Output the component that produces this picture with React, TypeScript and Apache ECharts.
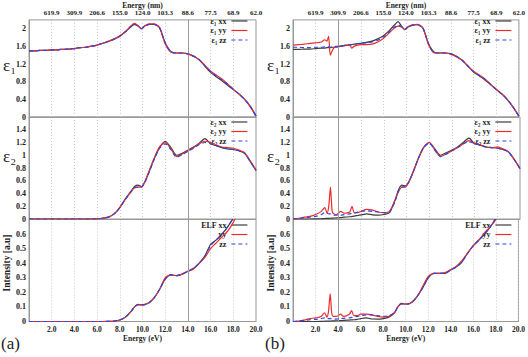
import React, { useEffect, useRef } from "react";
import * as echarts from "echarts";

// Photon energy grid (eV) shared by all curves
const energy = [
  0, 0.5, 1, 1.5, 2, 2.5, 2.8, 3.0, 3.15, 3.3,
  3.45, 3.6, 3.8, 4, 4.2, 4.5, 5, 5.2, 5.4, 5.7,
  6, 6.5, 7, 7.5, 8, 8.5, 9, 9.3, 9.6, 9.9,
  10.2, 10.6, 11, 11.5, 12, 12.5, 13, 13.5, 14, 14.5,
  15, 15.5, 16, 16.5, 17, 17.5, 18, 18.5, 19, 19.5,
  20,
];

// top axis tick labels (wavelength, nm) at 2,4,...,20 eV
const topTickLabels = ["619.9", "309.9", "206.6", "155.0", "124.0", "103.3", "88.6", "77.5", "68.9", "62.0"];

// ---------- panel (a) ----------
const aEps1xx = [
  1.50, 1.50, 1.51, 1.51, 1.52, 1.52, 1.53, 1.53, 1.53, 1.54,
  1.54, 1.54, 1.55, 1.55, 1.56, 1.57, 1.58, 1.59, 1.60, 1.61,
  1.63, 1.67, 1.71, 1.76, 1.83, 1.93, 2.05, 2.10, 2.07, 2.00,
  2.06, 2.10, 2.10, 2.02, 1.68, 1.48, 1.45, 1.45, 1.43, 1.38,
  1.29, 1.15, 1.01, 0.91, 0.82, 0.72, 0.62, 0.52, 0.40, 0.24,
  0.02,
];
const aEps1yy = [
  1.50, 1.50, 1.51, 1.51, 1.52, 1.52, 1.53, 1.53, 1.53, 1.54,
  1.54, 1.54, 1.55, 1.55, 1.56, 1.57, 1.58, 1.59, 1.60, 1.61,
  1.63, 1.67, 1.72, 1.77, 1.84, 1.94, 2.07, 2.12, 2.07, 2.00,
  2.07, 2.11, 2.11, 2.03, 1.66, 1.47, 1.45, 1.45, 1.43, 1.37,
  1.30, 1.17, 1.04, 0.95, 0.86, 0.75, 0.63, 0.52, 0.40, 0.23,
  0.02,
];
const aEps1zz = [
  1.50, 1.50, 1.51, 1.51, 1.52, 1.52, 1.53, 1.53, 1.53, 1.54,
  1.54, 1.54, 1.55, 1.55, 1.56, 1.57, 1.58, 1.59, 1.60, 1.61,
  1.63, 1.67, 1.71, 1.76, 1.83, 1.93, 2.05, 2.09, 2.06, 2.00,
  2.06, 2.10, 2.10, 2.02, 1.67, 1.48, 1.45, 1.45, 1.43, 1.38,
  1.30, 1.16, 1.03, 0.93, 0.84, 0.74, 0.63, 0.52, 0.40, 0.24,
  0.02,
];
const aEps2xx = [
  0, 0, 0, 0, 0, 0, 0, 0, 0, 0,
  0, 0, 0, 0, 0, 0, 0, 0, 0, 0.001,
  0.003, 0.012, 0.03, 0.08, 0.18, 0.32, 0.44, 0.51, 0.53, 0.51,
  0.58, 0.75, 0.93, 1.12, 1.22, 1.12, 1.00, 1.03, 1.08, 1.13,
  1.19, 1.26, 1.18, 1.15, 1.12, 1.10, 1.09, 1.07, 1.03, 0.90,
  0.76,
];
const aEps2yy = [
  0, 0, 0, 0, 0, 0, 0, 0, 0, 0,
  0, 0, 0, 0, 0, 0, 0, 0, 0, 0.001,
  0.003, 0.012, 0.03, 0.08, 0.18, 0.31, 0.43, 0.49, 0.50, 0.50,
  0.58, 0.76, 0.94, 1.13, 1.20, 1.10, 0.98, 1.02, 1.07, 1.12,
  1.18, 1.22, 1.20, 1.16, 1.13, 1.12, 1.11, 1.08, 1.04, 0.91,
  0.77,
];
const aEps2zz = [
  0, 0, 0, 0, 0, 0, 0, 0, 0, 0,
  0, 0, 0, 0, 0, 0, 0, 0, 0, 0.001,
  0.003, 0.012, 0.03, 0.08, 0.18, 0.31, 0.43, 0.49, 0.50, 0.50,
  0.57, 0.74, 0.92, 1.11, 1.18, 1.09, 0.97, 1.01, 1.06, 1.11,
  1.17, 1.20, 1.18, 1.15, 1.12, 1.10, 1.09, 1.07, 1.03, 0.90,
  0.76,
];
const aElfxx = [
  0, 0, 0, 0, 0, 0, 0, 0, 0, 0,
  0, 0, 0, 0, 0, 0, 0, 0, 0, 0,
  0, 0, 0.001, 0.003, 0.01, 0.03, 0.07, 0.10, 0.117, 0.115,
  0.117, 0.13, 0.16, 0.22, 0.29, 0.32, 0.315, 0.325, 0.345, 0.365,
  0.40, 0.45, 0.53, 0.56, 0.60, 0.65, 0.71, 0.79, 0.87, 0.95,
  1.03,
];
const aElfyy = [
  0, 0, 0, 0, 0, 0, 0, 0, 0, 0,
  0, 0, 0, 0, 0, 0, 0, 0, 0, 0,
  0, 0, 0.001, 0.003, 0.01, 0.03, 0.07, 0.10, 0.115, 0.112,
  0.115, 0.13, 0.16, 0.22, 0.30, 0.32, 0.315, 0.325, 0.345, 0.36,
  0.40, 0.44, 0.50, 0.54, 0.58, 0.62, 0.68, 0.76, 0.84, 0.92,
  1.00,
];
const aElfzz = [
  0, 0, 0, 0, 0, 0, 0, 0, 0, 0,
  0, 0, 0, 0, 0, 0, 0, 0, 0, 0,
  0, 0, 0.001, 0.003, 0.01, 0.03, 0.07, 0.10, 0.116, 0.114,
  0.116, 0.13, 0.16, 0.22, 0.29, 0.32, 0.315, 0.325, 0.345, 0.365,
  0.40, 0.45, 0.52, 0.56, 0.60, 0.65, 0.71, 0.79, 0.87, 0.95,
  1.03,
];

// ---------- panel (b) ----------
const bEps1xx = [
  1.53, 1.53, 1.54, 1.54, 1.55, 1.56, 1.56, 1.57, 1.57, 1.57,
  1.58, 1.58, 1.58, 1.59, 1.60, 1.61, 1.63, 1.64, 1.65, 1.66,
  1.67, 1.69, 1.72, 1.77, 1.84, 1.95, 2.09, 2.16, 2.06, 1.98,
  2.04, 2.08, 2.09, 2.01, 1.66, 1.47, 1.45, 1.45, 1.43, 1.37,
  1.28, 1.15, 1.02, 0.93, 0.84, 0.73, 0.62, 0.52, 0.39, 0.22,
  0.02,
];
const bEps1yy = [
  1.63, 1.64, 1.65, 1.67, 1.68, 1.70, 1.75, 1.72, 1.83, 1.40,
  1.49, 1.56, 1.59, 1.60, 1.61, 1.62, 1.64, 1.56, 1.60, 1.63,
  1.64, 1.64, 1.65, 1.70, 1.78, 1.90, 2.02, 2.06, 2.04, 1.98,
  2.05, 2.09, 2.10, 2.02, 1.64, 1.45, 1.45, 1.45, 1.42, 1.36,
  1.28, 1.15, 1.03, 0.95, 0.86, 0.74, 0.63, 0.52, 0.39, 0.22,
  0.02,
];
const bEps1zz = [
  1.58, 1.58, 1.57, 1.57, 1.58, 1.58, 1.59, 1.58, 1.59, 1.58,
  1.59, 1.59, 1.60, 1.60, 1.61, 1.62, 1.64, 1.64, 1.65, 1.66,
  1.67, 1.68, 1.70, 1.74, 1.81, 1.92, 2.04, 2.08, 2.05, 1.98,
  2.04, 2.08, 2.09, 2.02, 1.66, 1.46, 1.45, 1.45, 1.43, 1.37,
  1.28, 1.15, 1.02, 0.94, 0.85, 0.74, 0.62, 0.52, 0.39, 0.22,
  0.02,
];
const bEps2xx = [
  0, 0, 0, 0, 0.002, 0.005, 0.008, 0.01, 0.01, 0.012,
  0.013, 0.015, 0.017, 0.02, 0.022, 0.028, 0.035, 0.04, 0.045, 0.055,
  0.065, 0.08, 0.065, 0.06, 0.07, 0.10, 0.30, 0.46, 0.53, 0.52,
  0.58, 0.74, 0.93, 1.12, 1.20, 1.10, 1.00, 1.04, 1.08, 1.13,
  1.20, 1.27, 1.18, 1.16, 1.13, 1.12, 1.11, 1.09, 1.05, 0.93,
  0.79,
];
const bEps2yy = [
  0, 0.01, 0.03, 0.04, 0.07, 0.12, 0.18, 0.09, 0.20, 0.50,
  0.12, 0.08, 0.07, 0.09, 0.12, 0.09, 0.11, 0.20, 0.10, 0.10,
  0.12, 0.15, 0.14, 0.11, 0.10, 0.12, 0.30, 0.43, 0.50, 0.50,
  0.58, 0.75, 0.93, 1.12, 1.20, 1.08, 0.98, 1.02, 1.07, 1.12,
  1.18, 1.23, 1.19, 1.16, 1.13, 1.12, 1.13, 1.10, 1.05, 0.93,
  0.79,
];
const bEps2zz = [
  0, 0.01, 0.02, 0.03, 0.04, 0.07, 0.10, 0.09, 0.08, 0.08,
  0.07, 0.06, 0.06, 0.06, 0.06, 0.07, 0.08, 0.09, 0.09, 0.11,
  0.12, 0.13, 0.12, 0.11, 0.10, 0.11, 0.28, 0.44, 0.50, 0.51,
  0.58, 0.74, 0.93, 1.12, 1.19, 1.08, 0.98, 1.02, 1.07, 1.12,
  1.18, 1.21, 1.19, 1.16, 1.13, 1.12, 1.11, 1.09, 1.05, 0.93,
  0.79,
];
const bElfxx = [
  0, 0, 0, 0, 0, 0.001, 0.002, 0.003, 0.003, 0.003,
  0.004, 0.004, 0.005, 0.005, 0.006, 0.008, 0.010, 0.011, 0.012, 0.015,
  0.020, 0.025, 0.017, 0.016, 0.020, 0.030, 0.06, 0.10, 0.125, 0.12,
  0.12, 0.135, 0.17, 0.23, 0.30, 0.33, 0.33, 0.33, 0.355, 0.375,
  0.41, 0.47, 0.52, 0.56, 0.60, 0.65, 0.71, 0.79, 0.87, 0.95,
  1.03,
];
const bElfyy = [
  0, 0.003, 0.01, 0.02, 0.025, 0.035, 0.06, 0.03, 0.07, 0.19,
  0.05, 0.035, 0.035, 0.04, 0.05, 0.035, 0.05, 0.075, 0.04, 0.04,
  0.05, 0.05, 0.045, 0.035, 0.03, 0.035, 0.06, 0.10, 0.12, 0.12,
  0.12, 0.135, 0.17, 0.24, 0.31, 0.33, 0.33, 0.335, 0.355, 0.38,
  0.42, 0.47, 0.52, 0.56, 0.61, 0.65, 0.70, 0.78, 0.86, 0.94,
  1.02,
];
const bElfzz = [
  0, 0.003, 0.008, 0.012, 0.015, 0.02, 0.025, 0.02, 0.02, 0.02,
  0.018, 0.016, 0.016, 0.018, 0.02, 0.022, 0.025, 0.028, 0.03, 0.035,
  0.04, 0.045, 0.045, 0.04, 0.035, 0.04, 0.06, 0.10, 0.12, 0.12,
  0.12, 0.135, 0.17, 0.23, 0.30, 0.33, 0.33, 0.33, 0.355, 0.375,
  0.41, 0.47, 0.52, 0.56, 0.60, 0.65, 0.71, 0.79, 0.87, 0.95,
  1.03,
];

const names1 = ["ε₁ xx", "ε₁ yy", "ε₁ zz"];
const names2 = ["ε₂ xx", "ε₂ yy", "ε₂ zz"];
const namesElf = ["ELF xx", "yy", "zz"];

const FONT = "'Liberation Serif', 'DejaVu Serif', serif";
const COLORS = ["#3c3c3c", "#ee2b2b", "#2f45e6"];

export default function App() {
  const ref = useRef<HTMLDivElement>(null);

  useEffect(() => {
    if (!ref.current) return;
    const chart = echarts.init(ref.current, null, { renderer: "svg" });

    const panels = [
      { left: 29, legendRight: 280, mark: 14, data: [[aEps1xx, aEps1yy, aEps1zz], [aEps2xx, aEps2yy, aEps2zz], [aElfxx, aElfyy, aElfzz]] },
      { left: 293, legendRight: 16, mark: 4, data: [[bEps1xx, bEps1yy, bEps1zz], [bEps2xx, bEps2yy, bEps2zz], [bElfxx, bElfyy, bElfzz]] },
    ];
    const rows = [
      { top: 15, max: 2.2, interval: 0.4, names: names1, legendTop: 17 },
      { top: 117, max: 1.6, interval: 0.2, names: names2, legendTop: 118 },
      { top: 219.5, max: 0.7, interval: 0.1, names: namesElf, legendTop: 221 },
    ];
    const W = 227;
    const H = 102;

    const grid: any[] = [];
    const xAxis: any[] = [];
    const yAxis: any[] = [];
    const series: any[] = [];
    const legend: any[] = [];

    panels.forEach((p, pi) => {
      rows.forEach((r, ri) => {
        const g = pi * 3 + ri;
        grid.push({
          left: p.left, top: r.top, width: W, height: H,
          show: true, borderColor: "#999", borderWidth: 1, backgroundColor: "transparent",
        });
        const isBottom = ri === 2;
        xAxis.push({
          type: "value", gridIndex: g, min: 0, max: 20, interval: 2,
          axisLine: { show: true, lineStyle: { color: "#999" } },
          axisTick: { show: false },
          axisLabel: {
            show: isBottom, margin: 4, color: "#222", fontFamily: FONT, fontWeight: "bold", fontSize: 7.5,
            formatter: (v: number) => (v === 0 ? "" : v.toFixed(1)),
          },
          splitLine: { show: true, lineStyle: { color: "#c8c8c8", type: [1, 2], width: 1 } },
          name: isBottom ? "Energy (eV)" : "",
          nameLocation: "middle", nameGap: 12,
          nameTextStyle: { color: "#222", fontFamily: FONT, fontWeight: "bold", fontSize: 7.5 },
        });
        yAxis.push({
          type: "value", gridIndex: g, min: 0, max: r.max, interval: r.interval,
          axisLine: { show: true, lineStyle: { color: "#999" } },
          axisTick: { show: false },
          splitLine: { show: false },
          axisLabel: {
            showMaxLabel: false, margin: 3, color: "#222", fontFamily: FONT, fontWeight: "bold", fontSize: 8,
          },
        });
        r.names.forEach((nm, k) => {
          const vals = p.data[ri][k];
          const s: any = {
            type: "line", name: nm, xAxisIndex: g, yAxisIndex: g,
            data: energy.map((e, i) => [e, vals[i]]),
            symbol: "none", smooth: 0.25, clip: true,
            lineStyle: { color: COLORS[k], width: 1.2, type: k === 2 ? [4, 3] : "solid" },
            itemStyle: { color: COLORS[k] },
            z: 3 + k,
          };
          if (k === 0) {
            s.markLine = {
              silent: true, symbol: ["none", "none"], label: { show: false },
              lineStyle: { color: "#9a9a9a", type: "solid", width: 1 },
              data: [{ xAxis: p.mark }],
            };
          }
          series.push(s);
        });
        legend.push({
          orient: "vertical", align: "right", right: p.legendRight, top: r.legendTop,
          itemWidth: 16, itemHeight: 8, itemGap: 1.5, padding: 0,
          data: r.names, selectedMode: false,
          itemStyle: { color: "transparent", borderColor: "transparent", borderWidth: 0, opacity: 0 },
          lineStyle: { width: 1.2 },
          textStyle: { color: "#222", fontFamily: FONT, fontWeight: "bold", fontSize: 8, padding: [0, 0, 0, 0] },
        });
      });
    });

    // top wavelength axes on the eps1 grids
    panels.forEach((p, pi) => {
      xAxis.push({
        type: "value", gridIndex: pi * 3, position: "top", min: 0, max: 20, interval: 2,
        axisLine: { show: false }, axisTick: { show: false }, splitLine: { show: false },
        axisLabel: {
          margin: 3, color: "#222", fontFamily: FONT, fontWeight: "bold", fontSize: 7,
          formatter: (v: number) => (v === 0 ? "" : topTickLabels[Math.round(v / 2) - 1] || ""),
        },
        name: "Energy (nm)", nameLocation: "middle", nameGap: 10,
        nameTextStyle: { color: "#222", fontFamily: FONT, fontWeight: "bold", fontSize: 7.5 },
      });
    });

    const graphic: any[] = [];
    [0, 264].forEach((ox, pi) => {
      graphic.push({
        type: "text", left: ox + 3, top: 57,
        style: { text: "ε₁", font: `17px ${FONT}`, fill: "#222" },
      });
      graphic.push({
        type: "text", left: ox + 3, top: 148,
        style: { text: "ε₂", font: `17px ${FONT}`, fill: "#222" },
      });
      graphic.push({
        type: "text", x: ox + 7, y: 263, rotation: Math.PI / 2,
        style: {
          text: "Intensity [a.u]", font: `bold 9.5px ${FONT}`, fill: "#222",
          textAlign: "center", textVerticalAlign: "middle",
        },
      });
      graphic.push({
        type: "text", left: ox + 1, top: 335,
        style: { text: pi === 0 ? "(a)" : "(b)", font: `17px ${FONT}`, fill: "#222" },
      });
    });

    chart.setOption({
      animation: false,
      backgroundColor: "#fff",
      grid, xAxis, yAxis, series, legend, graphic,
    });

    return () => chart.dispose();
  }, []);

  return (
    <div
      ref={ref}
      style={{ position: "absolute", left: 0, top: 0, width: 528, height: 357, background: "#fff" }}
    />
  );
}
